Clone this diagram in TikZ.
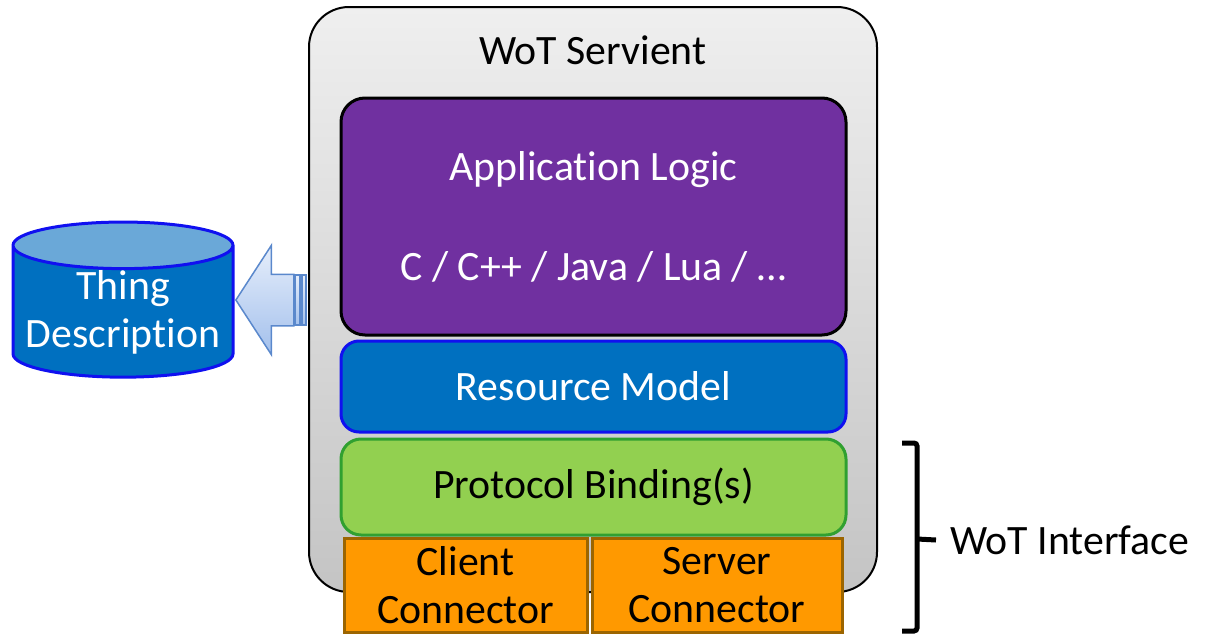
\documentclass[tikz,border=0pt]{standalone}
\usepackage{fontspec}
\setmainfont{Carlito}[Ligatures={NoCommon,NoContextual}]
\usetikzlibrary{shapes.geometric,shapes.arrows}
\definecolor{srvtop}{HTML}{EFEFEF}
\definecolor{srvbot}{HTML}{C4C4C4}
\definecolor{applogic}{HTML}{7030A0}
\definecolor{resblue}{HTML}{0070C0}
\definecolor{resline}{HTML}{1010F0}
\definecolor{protgreen}{HTML}{92D050}
\definecolor{protline}{HTML}{30A030}
\definecolor{connorange}{HTML}{FF9900}
\definecolor{connline}{HTML}{9C6500}
\definecolor{tdtop}{HTML}{6AA8D8}
\definecolor{arrtop}{HTML}{E6EEFB}
\definecolor{arrbot}{HTML}{A3C0EC}
\definecolor{arrline}{HTML}{5A88CC}
\begin{document}
\begin{tikzpicture}[x=0.5pt,y=-0.5pt]
\useasboundingbox (0,0) rectangle (1216,637);
\tikzstyle{every node}=[font=\fontsize{20.9}{24}\selectfont,inner sep=0pt,align=center];
\tikzstyle{layer}=[draw,line width=1.5pt,minimum width=252.5pt];
\tikzstyle{conn}=[draw=connline,fill=connorange,line width=1.5pt,minimum height=47pt];
\tikzstyle{brace}=[line width=2.5pt,rounded corners=1.5pt];
% servient
\node (serv)[draw=black,line width=1pt,rounded corners=20pt,top color=srvtop,bottom color=srvbot,
  minimum width=284pt,minimum height=292.5pt] at (593,299.5) {};
\node (servtitle) at (593,50) {WoT Servient};
\node (app)[layer,fill=applogic,text=white,rounded corners=12pt,minimum height=118.5pt] at (593.5,216.5)
  {Application Logic\\[26pt]C / C++ / Java / Lua / \dots};
\node (res)[layer,draw=resline,fill=resblue,text=white,rounded corners=9pt,minimum height=45.5pt] at (593.5,386.5) {Resource Model};
\node (prot)[layer,draw=protline,fill=protgreen,rounded corners=10pt,minimum height=48pt] at (593.5,487) {Protocol Binding(s)};
\node (client)[conn,minimum width=121.5pt] at (465.5,585) {Client\\Connector};
\node (server)[conn,minimum width=125pt] at (717,585) {Server\\Connector};
% thing description
\node (td)[cylinder,shape border rotate=90,aspect=0.24,minimum width=110pt,minimum height=72pt,
  cylinder uses custom fill,cylinder body fill=resblue,cylinder end fill=tdtop,
  draw=resline,line width=1.5pt,text=white] at (123,312) {Thing\\Description};
\node (tdarrow)[single arrow,shape border rotate=180,draw=arrline,line width=0.75pt,
  top color=arrtop,bottom color=arrbot,text height=12.5pt,text depth=12.5pt,minimum height=29pt,
  single arrow head extend=14.5pt,single arrow tip angle=114,anchor=tip] at (235,300) {};
\draw[draw=arrline,line width=0.75pt,top color=arrtop,bottom color=arrbot] (295,275) rectangle (300,325);
\draw[draw=arrline,line width=0.75pt,top color=arrtop,bottom color=arrbot] (302,275) rectangle (306,325);
% wot interface
\node (wotif)[anchor=west] at (950,540) {WoT Interface};
\coordinate (brmid) at (917,539);
\draw[brace] (902,443) -- (917,443) -- (917,631) -- (902,631);
\draw[brace] (brmid) -- ([xshift=-7pt]wotif.west);
\end{tikzpicture}
\end{document}
